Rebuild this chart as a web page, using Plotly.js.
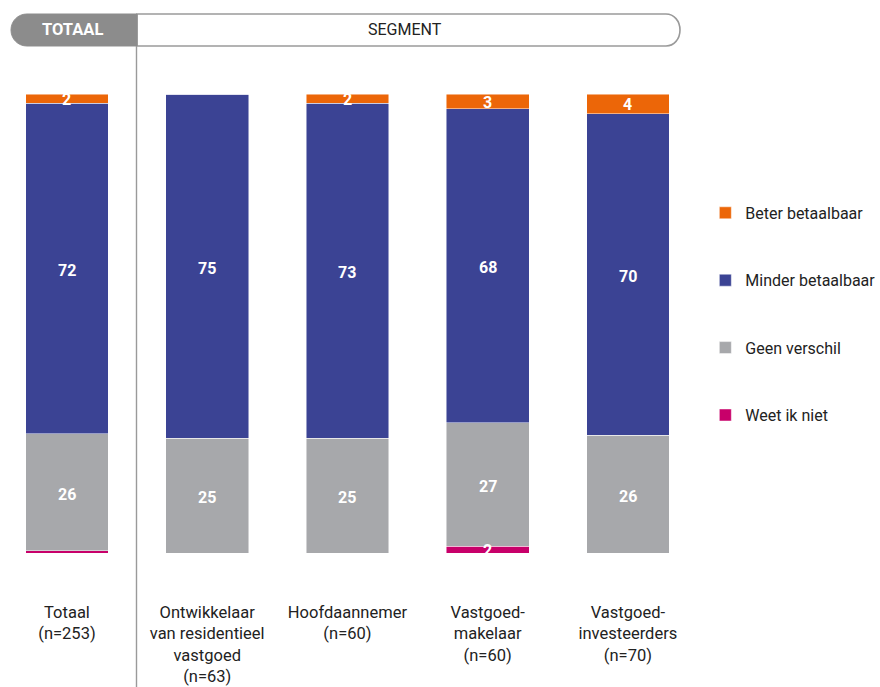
<!DOCTYPE html>
<html>
<head>
<meta charset="utf-8">
<script src="https://cdn.plot.ly/plotly-3.0.1.min.js"></script>
<style>html,body{margin:0;padding:0;background:#fff;}#chart{width:880px;height:687px;}</style>
</head>
<body>
<div id="chart"></div>
<script>
// Data
const categories = [
  "Totaal<br>(n=253)",
  "Ontwikkelaar<br>van residentieel<br>vastgoed<br>(n=63)",
  "Hoofdaannemer<br>(n=60)",
  "Vastgoed-<br>makelaar<br>(n=60)",
  "Vastgoed-<br>investeerders<br>(n=70)"
];
const seriesNames = ["Weet ik niet", "Geen verschil", "Minder betaalbaar", "Beter betaalbaar"];
const weetIkNiet = [0.5, 0, 0, 1.5, 0];
const geenVerschil = [25.5, 25, 25, 26.9, 25.7];
const minderBetaalbaar = [72, 75, 73, 68.4, 70];
const beterBetaalbaar = [2, 0, 2, 3.2, 4.3];
const colors = ["#c8006a", "#a7a8ab", "#3b4394", "#ec6608"];

const FONT = "Roboto, 'Noto Sans', sans-serif";
const allSeries = [weetIkNiet, geenVerschil, minderBetaalbaar, beterBetaalbaar];

const traces = allSeries.map((vals, i) => ({
  type: "bar",
  name: seriesNames[i],
  x: categories,
  y: vals,
  textposition: "none",
  marker: {color: colors[i], line: {color: "rgba(255,255,255,0.6)", width: 0.8}},
  legendgroup: "g" + i,
  legendrank: 4 - i,
  hoverinfo: "name+y"
}));

// value labels placed at segment midpoints (data coordinates)
const valueLabels = [];
categories.forEach((cat, j) => {
  let base = 0;
  allSeries.forEach(vals => {
    const v = vals[j];
    if (v >= 1) {
      valueLabels.push({
        xref: "x", yref: "y", x: cat, y: base + v / 2, yshift: v > 10 ? -2 : -1,
        text: "<b>" + Math.round(v) + "</b>", showarrow: false,
        xanchor: "center", yanchor: "middle",
        font: {size: 16, color: "#ffffff", family: FONT}
      });
    }
    base += v;
  });
});

// pixel -> paper helpers (plot area x: 0..698, y: 94..553)
const PW = 698, PT = 94, PB = 553, PH = PB - PT;
const px = v => v / PW;
const py = v => (PB - v) / PH;

function pathFromPoints(cmds) {
  return cmds.map(c => c[0] + (c.length > 1 ? " " + c.slice(1).map((v, k) => k % 2 === 0 ? px(v).toFixed(5) : py(v).toFixed(5)).join(",") : "")).join(" ");
}
// TOTAAL pill: x 11..137, y 14..46, left rounded r=16
const tPath = pathFromPoints([
  ["M", 27, 14], ["L", 137, 14], ["L", 137, 46], ["L", 27, 46],
  ["C", 18, 46, 11, 39, 11, 30], ["C", 11, 21, 18, 14, 27, 14], ["Z"]
]);
// SEGMENT box: x 137..680, right rounded r=14
const sPath = pathFromPoints([
  ["M", 137, 14], ["L", 666, 14], ["C", 674, 14, 680, 21, 680, 30],
  ["C", 680, 39, 674, 46, 666, 46], ["L", 137, 46], ["Z"]
]);

const layout = {
  width: 880, height: 687,
  margin: {l: 0, r: 182, t: PT, b: 687 - PB, pad: 0, autoexpand: false},
  paper_bgcolor: "#ffffff", plot_bgcolor: "#ffffff",
  barmode: "stack",
  bargap: 0.41,
  font: {family: FONT, color: "#222222", size: 15},
  xaxis: {
    range: [-0.4775, 4.5], showgrid: false, zeroline: false, showline: false,
    ticks: "outside", ticklen: 44, tickcolor: "rgba(0,0,0,0)",
    tickfont: {size: 16.5, color: "#222222", family: FONT}, fixedrange: true
  },
  yaxis: {range: [0, 100], visible: false, fixedrange: true},
  showlegend: true,
  legend: {
    x: 1.0105, xanchor: "left", y: 0.778, yanchor: "top",
    traceorder: "grouped", tracegroupgap: 43.6,
    font: {size: 16, color: "#222222", family: FONT},
    itemclick: false, itemdoubleclick: false, bgcolor: "rgba(0,0,0,0)"
  },
  shapes: [
    {type: "path", xref: "paper", yref: "paper", path: sPath, fillcolor: "#ffffff", line: {color: "#9a9a9a", width: 1.6}, layer: "above"},
    {type: "path", xref: "paper", yref: "paper", path: tPath, fillcolor: "#8c8c8c", line: {color: "#8c8c8c", width: 1}, layer: "above"},
    {type: "line", xref: "paper", yref: "paper", x0: px(136.5), x1: px(136.5), y0: py(46), y1: py(690), line: {color: "#9a9a9a", width: 1.4}, layer: "above"}
  ],
  annotations: [
    {xref: "paper", yref: "paper", x: px(72), y: py(30), text: "<b>TOTAAL</b>", showarrow: false, xanchor: "center", yanchor: "middle", font: {size: 16.5, color: "#ffffff", family: FONT}},
    {xref: "paper", yref: "paper", x: px(405), y: py(30), text: "SEGMENT", showarrow: false, xanchor: "center", yanchor: "middle", font: {size: 16, color: "#222222", family: FONT}}
  ].concat(valueLabels)
};

Plotly.newPlot("chart", traces, layout, {displayModeBar: false, staticPlot: false});
</script>
</body>
</html>
